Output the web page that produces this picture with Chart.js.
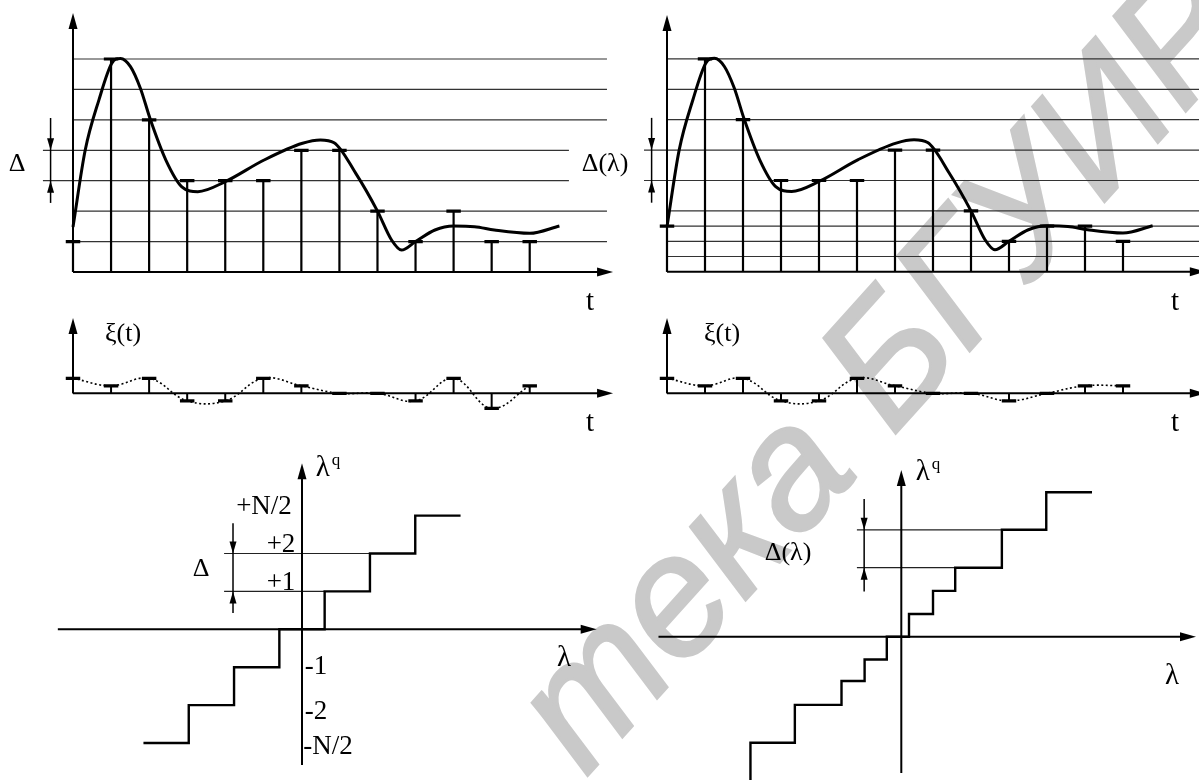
<!DOCTYPE html>
<html lang="ru">
<head>
<meta charset="utf-8">
<title>Квантование сигнала</title>
<script src="https://cdn.jsdelivr.net/npm/chart.js@4.4.1/dist/chart.umd.min.js"></script>
<style>
  html, body { margin: 0; padding: 0; background: #fff; }
  body { width: 1199px; height: 780px; position: relative; overflow: hidden; }
  canvas { position: absolute; z-index: 1; }
  .lbl {
    position: absolute; z-index: 2; color: #000;
    font-family: "Liberation Serif", "Times New Roman", serif;
    font-size: 26px; line-height: 1; white-space: nowrap;
    transform: translate(-50%, -50%);
  }
  .lbl.big { font-size: 29px; }
  .lbl.num { font-size: 27px; }
  .lbl sup { font-size: 17px; vertical-align: 11px; margin-left: 2px; }
  .wm {
    position: absolute; z-index: 0; color: #c9c9c9;
    -webkit-text-stroke: 3px #c9c9c9;
    font-family: "Liberation Sans", Arial, sans-serif; font-style: italic;
    font-size: 170px; line-height: 1; white-space: nowrap;
    left: 145px; top: 1123px;
    transform-origin: 0 144px; transform: rotate(-48deg);
  }
  .wm .gap { letter-spacing: 0.45em; }
</style>
</head>
<body>
<div class="wm">Библи<span class="gap">о</span>тека БГУИР</div>

<canvas id="sigU" width="620" height="300" style="left:0;top:0"></canvas>
<canvas id="sigN" width="579" height="300" style="left:620px;top:0"></canvas>
<canvas id="errU" width="620" height="140" style="left:0;top:300px"></canvas>
<canvas id="errN" width="579" height="140" style="left:620px;top:300px"></canvas>
<canvas id="stairU" width="580" height="340" style="left:40px;top:440px"></canvas>
<canvas id="stairN" width="559" height="340" style="left:640px;top:440px"></canvas>

<span class="lbl" style="left:17px;top:163px">Δ</span>
<span class="lbl" style="left:605px;top:163px">Δ(λ)</span>
<span class="lbl big" style="left:590px;top:300px">t</span>
<span class="lbl big" style="left:1175px;top:300px">t</span>
<span class="lbl" style="left:123px;top:333px">ξ(t)</span>
<span class="lbl" style="left:722px;top:333px">ξ(t)</span>
<span class="lbl big" style="left:590px;top:421px">t</span>
<span class="lbl big" style="left:1175px;top:421px">t</span>

<span class="lbl big" style="left:328px;top:466px">λ<sup>q</sup></span>
<span class="lbl num" style="left:264px;top:505px">+N/2</span>
<span class="lbl num" style="left:281px;top:543px">+2</span>
<span class="lbl num" style="left:281px;top:581px">+1</span>
<span class="lbl" style="left:201px;top:568px">Δ</span>
<span class="lbl num" style="left:316px;top:665px">-1</span>
<span class="lbl num" style="left:316px;top:710px">-2</span>
<span class="lbl num" style="left:328px;top:745px">-N/2</span>
<span class="lbl big" style="left:564px;top:656px">λ</span>

<span class="lbl big" style="left:928px;top:470px">λ<sup>q</sup></span>
<span class="lbl" style="left:788px;top:552px">Δ(λ)</span>
<span class="lbl big" style="left:1172px;top:674px">λ</span>

<script>
// отсчёты (номер такта дискретизации)
const sampleIdx = [0, 1, 2, 3, 4, 5, 6, 7, 8, 9, 10, 11, 12];

// исходный непрерывный сигнал λ(t), в единицах шага Δ
const signalT = [0, 0.32, 0.68, 1.02, 1.25, 1.51, 1.77, 2.03, 2.44, 2.86, 3.28, 4.0, 5.02, 6.03,
                 6.5, 6.86, 7.43, 8.0, 8.37, 8.63, 9.0, 9.51, 10.0, 10.55, 11.07, 12.0, 12.78];
const signalV = [1.48, 4.0, 5.65, 6.86, 7.02, 6.75, 6.04, 5.02, 3.68, 2.8, 2.64, 2.97, 3.68, 4.23,
                 4.34, 4.25, 3.24, 2.0, 1.05, 0.72, 1.0, 1.38, 1.51, 1.49, 1.38, 1.27, 1.51];

// равномерное квантование
const uniformLevels = [1, 2, 3, 4, 5, 6, 7];
const uniformSamples = [1, 7, 5, 3, 3, 3, 4, 4, 2, 1, 2, 1, 1];
const uniformError = [2, 1, 2, -1, -1, 2, 1, 0, 0, -1, 2, -2, 1];

// неравномерное квантование (мелкий шаг внизу)
const nonuniformLevels = [0.5, 1, 1.5, 2, 3, 4, 5, 6, 7];
const nonuniformSamples = [1.5, 7, 5, 3, 3, 3, 4, 4, 2, 1, 1.5, 1.5, 1];
const nonuniformError = [2, 1, 2, -1, -1, 2, 1, 0, 0, -1, 0, 1, 1];

// характеристики квантователей λq(λ)
const uniformIn = [-3.5, -2.5, -1.5, -0.5, 0.5, 1.5, 2.5, 3.5];
const uniformOut = [-3, -2, -1, 0, 1, 2, 3, 3];
const uniformMarks = [1, 2];
const nonuniformIn = [-4.3, -3.33, -2.35, -1.32, -0.81, -0.32, 0.17, 0.7, 1.19, 2.22, 3.2, 4.21];
const nonuniformOut = [-3.81, -2.8, -1.8, -1.17, -0.6, 0, 0.6, 1.21, 1.82, 2.82, 3.81, 3.81];
const nonuniformMarks = [1.82, 2.82];

const BAR = 0.19; // половина ширины засечки, в тактах

function arrowHead(ctx, x1, y1, x2, y2, len, half) {
  const a = Math.atan2(y2 - y1, x2 - x1);
  const c = Math.cos(a), s = Math.sin(a);
  ctx.beginPath();
  ctx.moveTo(x2, y2);
  ctx.lineTo(x2 - len * c + half * s, y2 - len * s - half * c);
  ctx.lineTo(x2 - len * c - half * s, y2 - len * s + half * c);
  ctx.closePath();
  ctx.fill();
}

function arrowLine(ctx, x1, y1, x2, y2, len, half) {
  const a = Math.atan2(y2 - y1, x2 - x1);
  ctx.beginPath();
  ctx.moveTo(x1, y1);
  ctx.lineTo(x2 - (len - 2) * Math.cos(a), y2 - (len - 2) * Math.sin(a));
  ctx.stroke();
  arrowHead(ctx, x1, y1, x2, y2, len, half);
}

// оси со стрелками и размерные стрелки Δ
const sketchPlugin = {
  id: 'sketch',
  afterDatasetsDraw(chart, args, opts) {
    const { ctx } = chart;
    const x = chart.scales.x, y = chart.scales.y;
    ctx.save();
    ctx.fillStyle = '#000';
    ctx.strokeStyle = '#000';
    (opts.axes || []).forEach(a => {
      ctx.lineWidth = 2;
      arrowLine(ctx, x.getPixelForValue(a[0]), y.getPixelForValue(a[1]),
                x.getPixelForValue(a[2]), y.getPixelForValue(a[3]), 16, 4.5);
    });
    (opts.deltas || []).forEach(d => {
      const px = x.getPixelForValue(d.x);
      const top = y.getPixelForValue(d.top), bottom = y.getPixelForValue(d.bottom);
      const hi = y.getPixelForValue(d.hi), lo = y.getPixelForValue(d.lo);
      ctx.lineWidth = 1.5;
      ctx.beginPath();
      ctx.moveTo(px, top);
      ctx.lineTo(px, bottom);
      ctx.stroke();
      arrowHead(ctx, px, top, px, hi, 12, 3.5);
      arrowHead(ctx, px, bottom, px, lo, 12, 3.5);
    });
    ctx.restore();
  }
};

// отрезки одной линией с разрывами
function segments(list) {
  const out = [];
  list.forEach(([x1, y1, x2, y2]) => {
    out.push({ x: x1, y: y1 }, { x: x2, y: y2 }, { x: x2, y: null });
  });
  return out;
}

function makeChart(id, geo, datasets, sketch) {
  const canvas = document.getElementById(id);
  const w = canvas.width, h = canvas.height;
  return new Chart(canvas.getContext('2d'), {
    type: 'line',
    data: { datasets },
    options: {
      responsive: false,
      animation: false,
      events: [],
      layout: { padding: 0 },
      elements: {
        point: { radius: 0 },
        line: { borderColor: '#000', fill: false, borderCapStyle: 'butt' }
      },
      scales: {
        x: { type: 'linear', display: false, min: -geo.ox / geo.ux, max: (w - geo.ox) / geo.ux },
        y: { type: 'linear', display: false, min: -(h - geo.oy) / geo.uy, max: geo.oy / geo.uy }
      },
      plugins: { legend: { display: false }, tooltip: { enabled: false }, sketch }
    },
    plugins: [sketchPlugin]
  });
}

// сигнал с уровнями квантования
function signalDatasets(samples, levels, lv) {
  const grid = levels.map(l => lv.marked.includes(l)
    ? [lv.markFrom, l, lv.markTo, l]
    : [lv.from, l, lv.to, l]);
  return [
    { data: signalT.map((t, i) => ({ x: t, y: signalV[i] })), borderWidth: 3,
      cubicInterpolationMode: 'monotone', order: 0 },
    { data: segments(sampleIdx.map(k => [k - BAR, samples[k], k + BAR, samples[k]])),
      borderWidth: 3.2, order: 1 },
    { data: segments(sampleIdx.map(k => [k, 0, k, samples[k]])), borderWidth: 2.2, order: 2 },
    { data: segments(grid), borderWidth: 1.2, borderColor: '#333', order: 3 }
  ];
}

// погрешность квантования ξ(t)
function errorDatasets(err) {
  return [
    { data: sampleIdx.map(k => ({ x: k, y: err[k] })), borderWidth: 1.6, borderDash: [2, 2.5],
      tension: 0.4, order: 2 },
    { data: segments(sampleIdx.map(k => [k - BAR, err[k], k + BAR, err[k]])), borderWidth: 3.2, order: 0 },
    { data: segments(sampleIdx.map(k => [k, 0, k, err[k]])), borderWidth: 2, order: 1 }
  ];
}

// ступенчатая характеристика
function stairDatasets(xin, xout, marks, markFrom) {
  const guides = marks.map(m => [markFrom, m, xin[xout.indexOf(m)], m]);
  return [
    { data: xin.map((v, i) => ({ x: v, y: xout[i] })), stepped: true, borderWidth: 2.4, order: 0 },
    { data: segments(guides), borderWidth: 1.2, borderColor: '#222', order: 1 }
  ];
}

makeChart('sigU', { ox: 73, oy: 272, ux: 38.06, uy: 30.43 },
  signalDatasets(uniformSamples, uniformLevels,
    { marked: [3, 4], from: 0, to: 14.03, markFrom: -0.79, markTo: 13.03 }),
  { axes: [[0, 0, 0, 8.51], [0, 0, 14.19, 0]],
    deltas: [{ x: -0.589, top: 5.06, bottom: 2.27, hi: 4, lo: 3 }] });

makeChart('sigN', { ox: 47, oy: 271.7, ux: 38.0, uy: 30.4 },
  signalDatasets(nonuniformSamples, nonuniformLevels,
    { marked: [3, 4], from: 0, to: 14.4, markFrom: -0.605, markTo: 14.4 }),
  { axes: [[0, 0, 0, 8.44], [0, 0, 14.18, 0]],
    deltas: [{ x: -0.405, top: 5.06, bottom: 2.27, hi: 4, lo: 3 }] });

makeChart('errU', { ox: 73, oy: 93.3, ux: 38.06, uy: 7.5 },
  errorDatasets(uniformError),
  { axes: [[0, 0, 0, 10.04], [0, 0, 14.19, 0]] });

makeChart('errN', { ox: 47, oy: 93.3, ux: 38.0, uy: 7.5 },
  errorDatasets(nonuniformError),
  { axes: [[0, 0, 0, 10.04], [0, 0, 14.18, 0]] });

makeChart('stairU', { ox: 262, oy: 189.3, ux: 45.3, uy: 37.9 },
  stairDatasets(uniformIn, uniformOut, uniformMarks, -1.72),
  { axes: [[-5.39, 0, 6.505, 0], [0, -3.58, 0, 4.38]],
    deltas: [{ x: -1.523, top: 2.8, bottom: 0.43, hi: 2, lo: 1 }] });

makeChart('stairN', { ox: 261.3, oy: 196.7, ux: 45.3, uy: 37.9 },
  stairDatasets(nonuniformIn, nonuniformOut, nonuniformMarks, -0.98),
  { axes: [[-5.36, 0, 6.505, 0], [0, -3.596, 0, 4.4]],
    deltas: [{ x: -0.82, top: 3.63, bottom: 1.19, hi: 2.82, lo: 1.82 }] });
</script>
</body>
</html>
